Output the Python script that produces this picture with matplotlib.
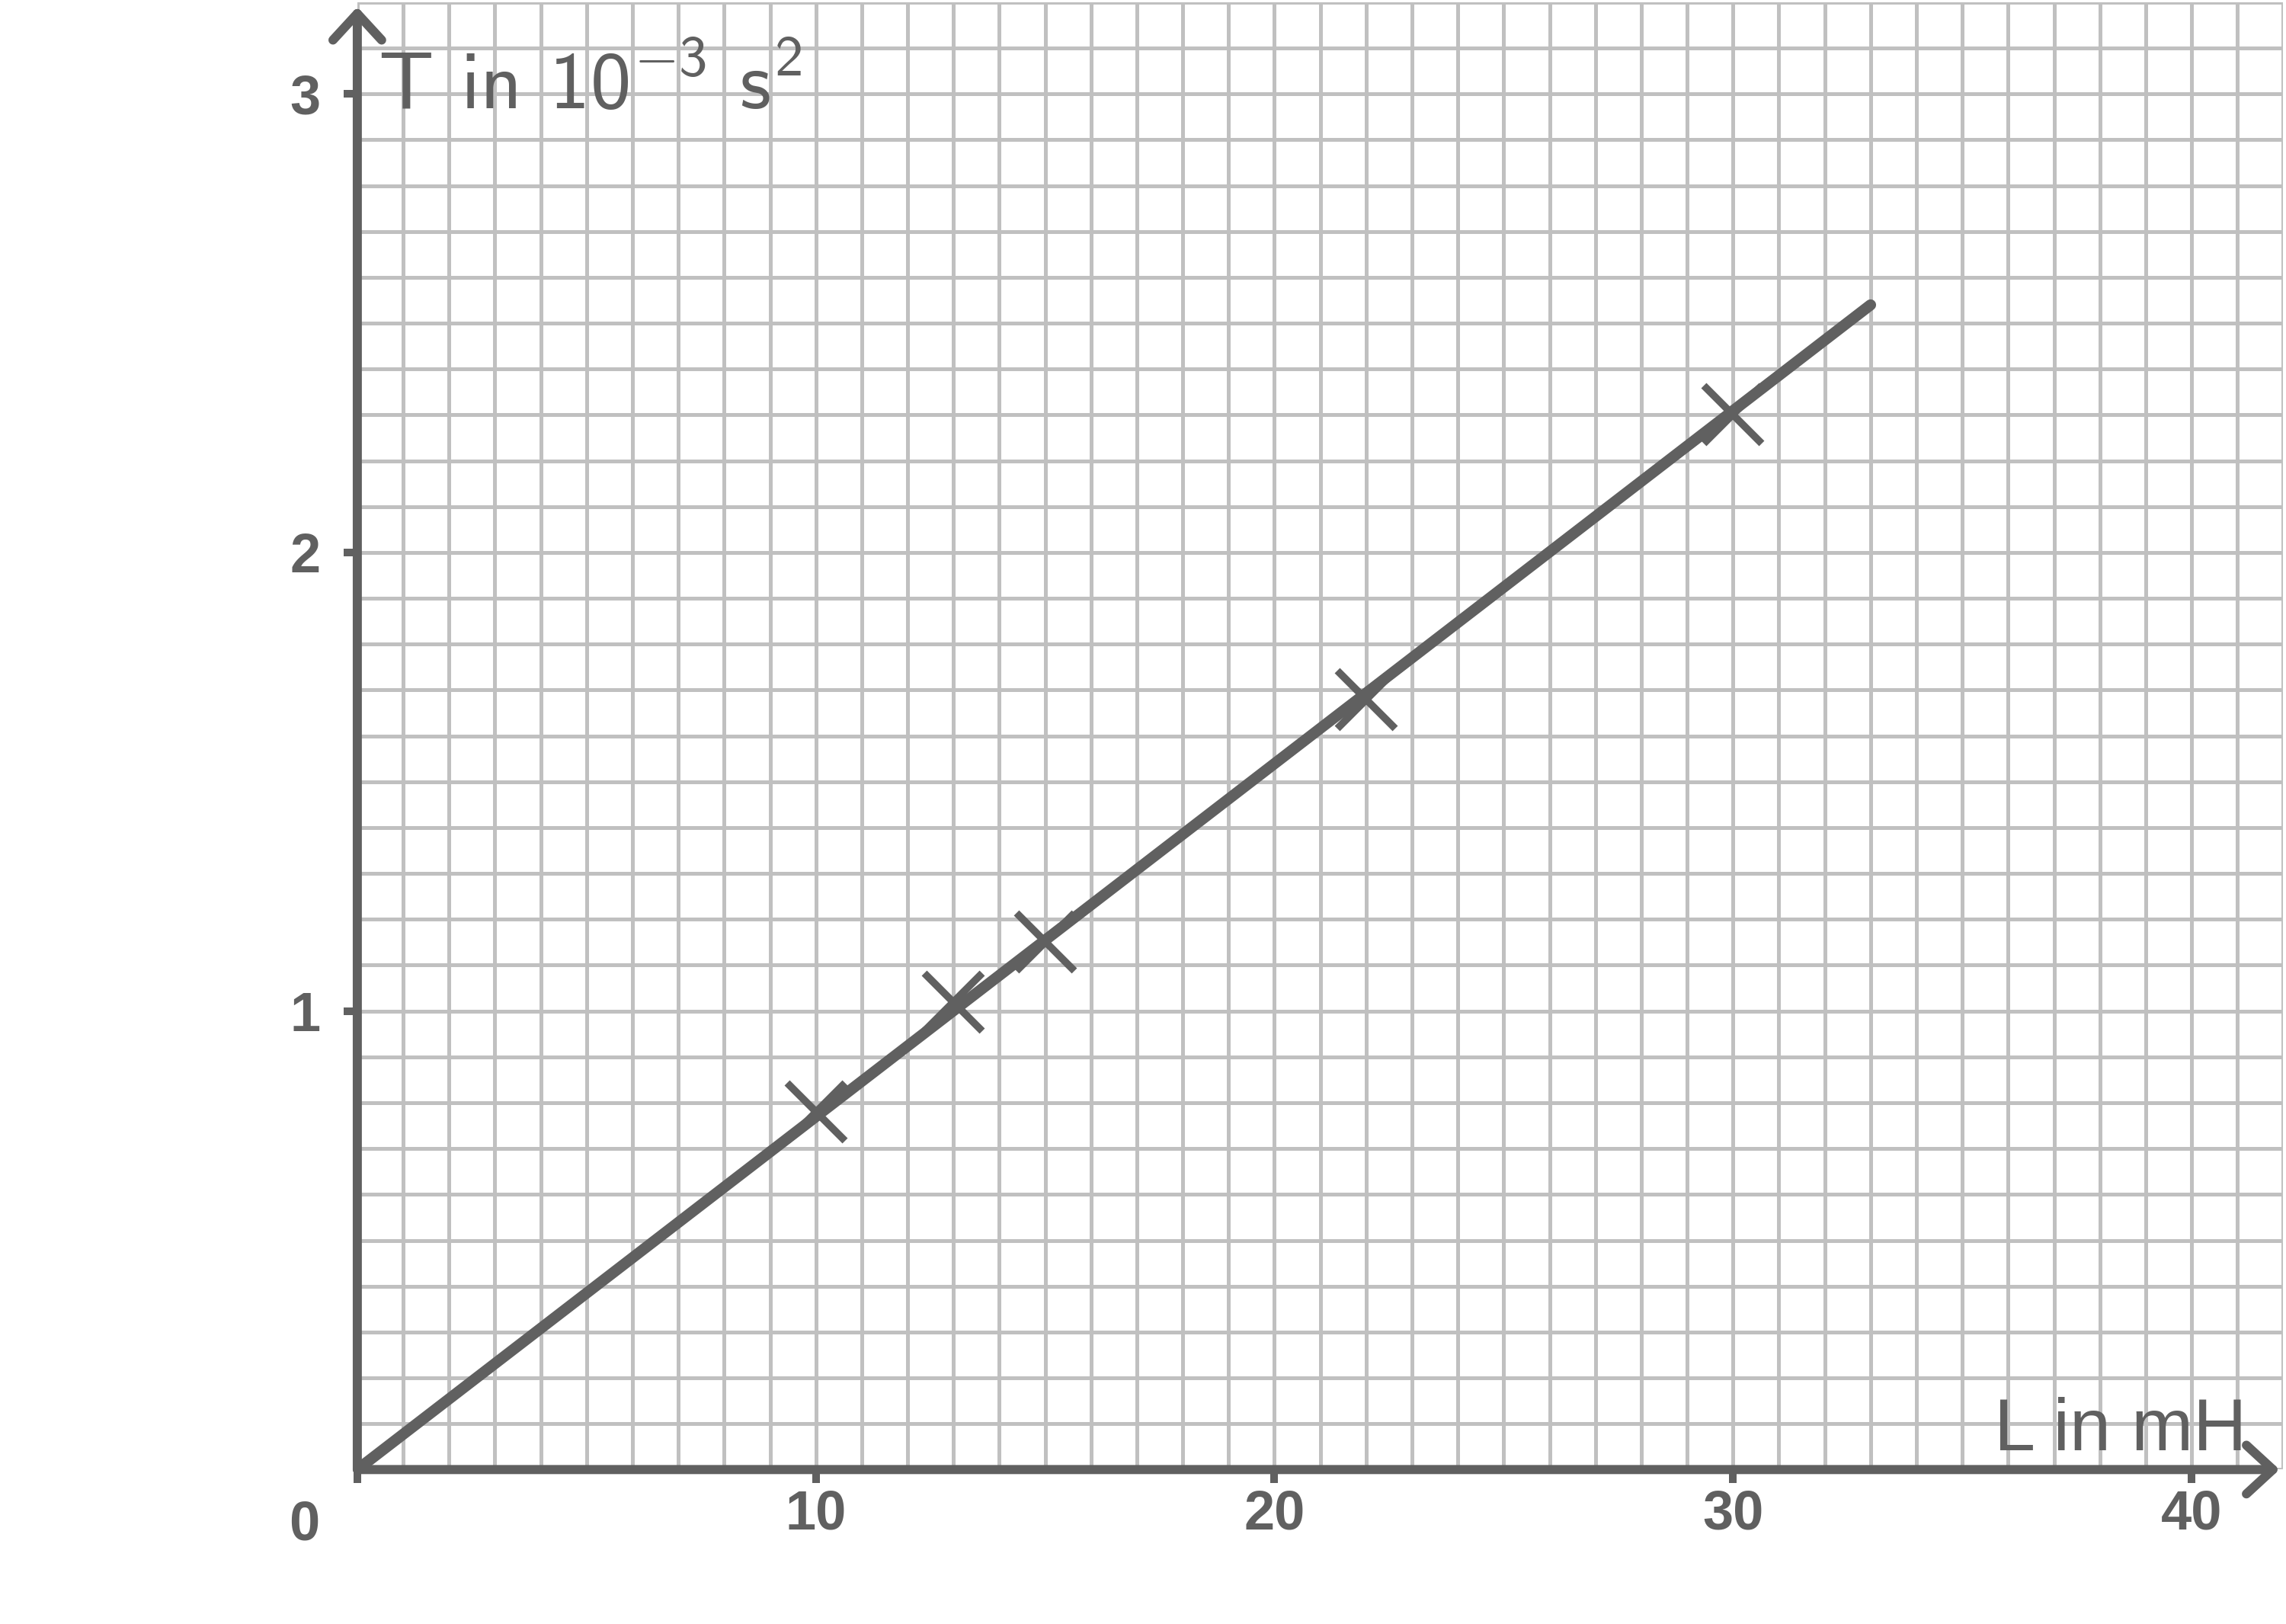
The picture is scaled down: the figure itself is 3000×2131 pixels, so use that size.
import matplotlib
matplotlib.use("Agg")
import matplotlib.pyplot as plt
from matplotlib.ticker import MultipleLocator

# measured points (L in mH, T in 10^-3 s^2)
L_meas = [10, 13, 15, 22, 30]
T_meas = [0.78, 1.02, 1.15, 1.68, 2.30]

# fitted line through origin
L_fit = [0, 33]
T_fit = [0, 2.54]

x_ticks = [0, 10, 20, 30, 40]
x_ticklabels = ["", "10", "20", "30", "40"]
y_ticks = [1, 2, 3]
y_ticklabels = ["1", "2", "3"]

DARK = "#606060"
GRID = "#c0c0c0"

plt.rcParams["font.family"] = "Liberation Sans"
plt.rcParams["mathtext.fontset"] = "custom"
plt.rcParams["mathtext.rm"] = "cmss10"
plt.rcParams["mathtext.it"] = "cmss10"
plt.rcParams["mathtext.sf"] = "cmss10"
plt.rcParams["axes.formatter.use_mathtext"] = True

fig = plt.figure(figsize=(30, 21.31), dpi=100)
ax = fig.add_axes([0.1563, 0.0951, 0.8425, 0.9035])
ax.set_xlim(0, 42)
ax.set_ylim(0, 3.2)

# graph paper grid
ax.xaxis.set_minor_locator(MultipleLocator(1))
ax.yaxis.set_minor_locator(MultipleLocator(0.1))
ax.set_xticks(x_ticks, x_ticklabels)
ax.set_yticks(y_ticks, y_ticklabels)
ax.grid(which="both", color=GRID, lw=3.6)
ax.set_axisbelow(True)

for s in ax.spines.values():
    s.set_visible(False)

ax.tick_params(which="major", direction="out", length=13, width=7.2,
               color=DARK, labelcolor=DARK, labelsize=52)
ax.tick_params(which="minor", length=0)
ax.tick_params(axis="x", pad=5)
ax.tick_params(axis="y", pad=22)
for lab in ax.get_xticklabels() + ax.get_yticklabels():
    lab.set_fontweight("bold")

# axes with open arrow heads
arrow_kw = dict(arrowstyle="->,head_length=25,head_width=23", mutation_scale=1,
                lw=8.6, color=DARK, shrinkA=0, shrinkB=0)
ax.annotate("", xy=(41.92, 0), xytext=(0, 0), arrowprops=arrow_kw,
            annotation_clip=False)
ax.annotate("", xy=(0, 3.19), xytext=(0, 0), arrowprops=arrow_kw,
            annotation_clip=False)

# data
ax.plot(L_fit, T_fit, lw=10.5, color=DARK, solid_capstyle="round", zorder=3)
ax.plot(L_meas, T_meas, ls="none", marker="x", ms=55, mew=7, color=DARK,
        zorder=4)

# labels
ax.text(0.45, 2.967, r"T in 10$^{-3}$ s$^{2}$", fontsize=77,
        family="cmss10", color=DARK, ha="left", va="baseline")
ax.text(35.7, 0.042, "L in mH", fontsize=70, color=DARK,
        ha="left", va="baseline")
ax.annotate("0", xy=(0, 0), xytext=(-50, -66), textcoords="offset points",
            ha="center", va="baseline", fontsize=52, fontweight="bold",
            color=DARK, annotation_clip=False)

fig.savefig("out.png", dpi=100)
